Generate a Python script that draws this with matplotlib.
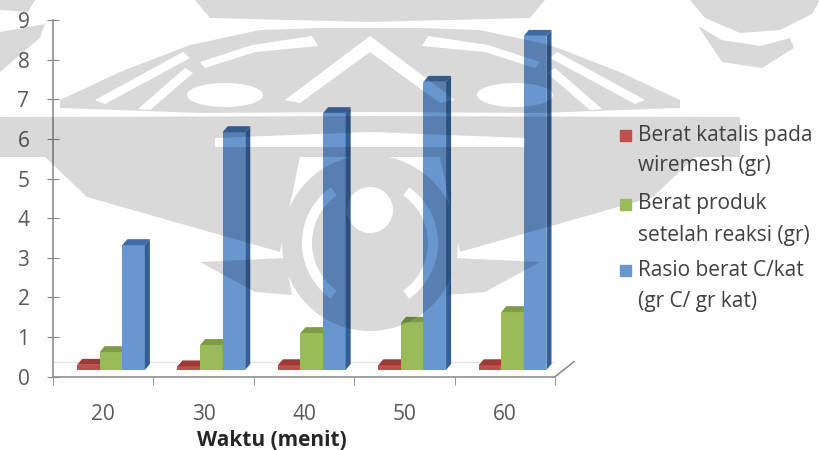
import numpy as np
import matplotlib
matplotlib.use('Agg')
import matplotlib.pyplot as plt
from matplotlib.patches import Polygon, Rectangle, PathPatch
from matplotlib.path import Path

# data
waktu = ['20', '30', '40', '50', '60']
berat_katalis = [0.13, 0.09, 0.12, 0.12, 0.12]
berat_produk = [0.45, 0.63, 0.93, 1.19, 1.46]
rasio = [3.15, 6.0, 6.48, 7.27, 8.43]
series_names = ['Berat katalis pada\nwiremesh (gr)',
                'Berat produk\nsetelah reaksi (gr)',
                'Rasio berat C/kat\n(gr C/ gr kat)']
x_label = 'Waktu (menit)'

# front / top / side shades for each series
shades = [('#C0504D', '#9C3A37', '#8A302E'),
          ('#9BBB59', '#7E9B45', '#6E883A'),
          ('#6896CE', '#3E6BA5', '#355E94')]

plt.rcParams['font.family'] = ['Open Sans', 'DejaVu Sans']

W, H = 820, 450
fig = plt.figure(figsize=(W / 100, H / 100), dpi=100)


def px_box(x0, y0, x1, y1):
    return [x0 / W, 1 - y1 / H, (x1 - x0) / W, (y1 - y0) / H]


ax = fig.add_axes(px_box(53, 20, 555, 376.7))
ax.set_xlim(-0.5, 4.5)
ax.set_ylim(0, 9)

# fake 3d depth
base = 0.17
dx, dy = 0.05, 0.15
offsets = [-0.26, -0.035, 0.19]
bw = 0.225
xs = np.arange(len(waktu))

all_series = [berat_katalis, berat_produk, rasio]
for k, vals in enumerate(all_series):
    front, top, side = shades[k]
    left = xs + offsets[k]
    ax.bar(left, vals, width=bw, bottom=base, align='edge', color=front,
           linewidth=0, zorder=3 + k)
    for xl, v in zip(left, vals):
        y1 = base + v
        ax.add_patch(Polygon([(xl, y1), (xl + bw, y1), (xl + bw + dx, y1 + dy),
                              (xl + dx, y1 + dy)], closed=True, color=top,
                             linewidth=0, zorder=3 + k))
        ax.add_patch(Polygon([(xl + bw, base), (xl + bw + dx, base + dy),
                              (xl + bw + dx, y1 + dy), (xl + bw, y1)],
                             closed=True, color=side, linewidth=0, zorder=3 + k))

# floor
ax.plot([-0.5, 4.69], [0.38, 0.38], color='#E3E3E3', lw=1, zorder=1)
ax.plot([4.5, 4.69], [0, 0.38], color='#868686', lw=1.1, clip_on=False, zorder=2)

for s in ['top', 'right']:
    ax.spines[s].set_visible(False)
for s in ['left', 'bottom']:
    ax.spines[s].set_color('#868686')
    ax.spines[s].set_linewidth(1.1)

ax.set_yticks(range(10))
ax.tick_params(axis='y', direction='inout', length=8, color='#868686',
               labelsize=15, labelcolor='#595959', pad=13)
ax.set_xticks(xs)
ax.set_xticklabels(waktu)
ax.set_xticks(np.arange(-0.5, 5, 1), minor=True)
ax.tick_params(axis='x', which='major', length=0, labelsize=15,
               labelcolor='#595959', pad=20)
ax.tick_params(axis='x', which='minor', direction='out', length=6,
               color='#868686')
ax.set_xlabel(x_label, fontsize=15, fontweight='bold', color='#262626', va='center')
ax.xaxis.set_label_coords((272 - 53) / 502, (376.7 - 440) / 356.7)

# watermark overlay (pixel coords, y down)
ov = fig.add_axes([0, 0, 1, 1], zorder=5)
ov.set_xlim(0, W)
ov.set_ylim(H, 0)
ov.axis('off')
ov.patch.set_alpha(0)


def oriented(pts, hole=False):
    pts = np.asarray(pts, float)
    x, y = pts[:, 0], pts[:, 1]
    area = 0.5 * np.sum(x * np.roll(y, -1) - np.roll(x, -1) * y)
    if (area > 0) == hole:
        pts = pts[::-1]
    return pts


def ellipse(cx, cy, rx, ry, n=90):
    t = np.linspace(0, 2 * np.pi, n, endpoint=False)
    return np.column_stack([cx + rx * np.cos(t), cy + ry * np.sin(t)])


def arc_band(cx, cy, r0, r1, a0, a1, n=40):
    t = np.radians(np.linspace(a0, a1, n))
    outer = np.column_stack([cx + r1 * np.cos(t), cy + r1 * np.sin(t)])
    inner = np.column_stack([cx + r0 * np.cos(t), cy + r0 * np.sin(t)])[::-1]
    return np.vstack([outer, inner])


def mirror(pts, cx=370):
    return [(2 * cx - x, y) for x, y in pts]


# left halves, mirrored to the right
left_solid = [
    [(60, 100), (120, 72), (190, 45), (260, 30), (320, 28), (370, 28),
     (370, 112), (200, 113), (60, 108)],
    [(45, 157), (300, 157), (280, 252), (150, 215), (87, 197)],
    [(200, 262), (285, 258), (292, 295), (255, 292)],
]
left_holes = [
    [(95, 100), (183, 52), (190, 58), (105, 104)],
    [(138, 109), (185, 68), (193, 73), (150, 110)],
    ellipse(225, 95, 38, 12),
    [(200, 62), (252, 45), (312, 36), (318, 46), (255, 52), (205, 68)],
]
solid = [
    [(195, 0), (545, 0), (530, 18), (370, 22), (210, 18)],
    [(0, 117), (370, 116), (740, 117), (740, 157), (370, 157), (0, 157)],
    ellipse(370, 243, 88, 88),
    # corners
    [(0, 0), (35, 0), (28, 12), (0, 10)],
    [(0, 32), (45, 24), (40, 38), (0, 72)],
    [(690, 0), (820, 0), (812, 14), (780, 30), (740, 33), (705, 18)],
    [(698, 26), (722, 40), (760, 46), (790, 38), (794, 48), (762, 68), (722, 62)],
]
holes = [
    [(370, 36), (285, 100), (300, 103), (370, 52), (440, 103), (455, 100)],
    [(215, 138), (370, 132), (525, 138), (525, 147), (370, 147), (215, 147)],
    ellipse(370, 210, 23, 23),
    arc_band(370, 243, 58, 68, 125, 235),
    arc_band(370, 243, 58, 68, -55, 55),
]
for p in left_solid:
    solid += [p, mirror(p)]
for p in left_holes:
    holes += [p, mirror(p)]

polys = [oriented(p) for p in solid] + [oriented(p, hole=True) for p in holes]
paths = [Path(np.vstack([p, p[:1]]), closed=True) for p in polys]
wm = Path.make_compound_path(*paths)
ov.add_patch(PathPatch(wm, facecolor='black', alpha=0.15, linewidth=0))

# legend
entry_y = [135, 204, 270]
for k, name in enumerate(series_names):
    y = entry_y[k]
    ov.add_patch(Rectangle((620, y - 5.5), 11, 11, color=shades[k][0], zorder=6))
    for j, line in enumerate(name.split('\n')):
        ov.text(638, y + 31 * j, line, fontsize=15, color='#404040',
                va='center', ha='left', zorder=6)

fig.savefig('out.png', dpi=100)
